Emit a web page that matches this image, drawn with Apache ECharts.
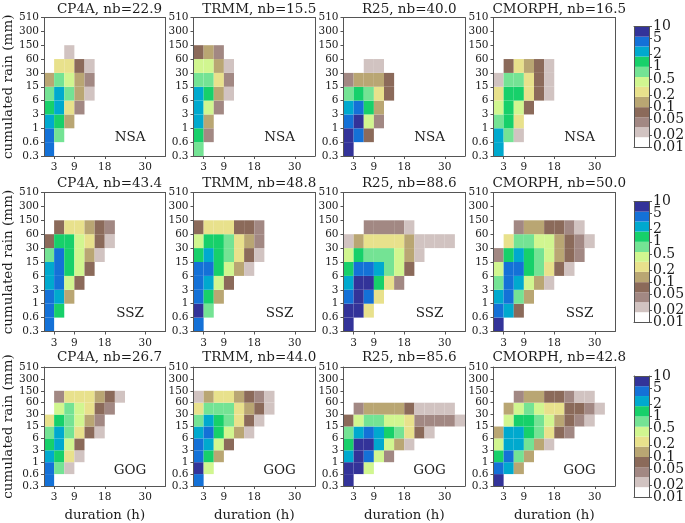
<!DOCTYPE html>
<html>
<head>
<meta charset="utf-8">
<style>html,body{margin:0;padding:0;background:#fff}#c{width:685px;height:523px}</style>
<script src="https://cdn.jsdelivr.net/npm/echarts@6/dist/echarts.min.js"></script>
</head>
<body>
<div id="c"></div>
<script>
const rainTicks = ['0.3','0.6','1','3','6','15','30','60','150','300','510'];
const durationTicks = [3, 9, 18, 30];
const colorbarTicks = [10, 5, 2, 1, 0.5, 0.2, 0.1, 0.05, 0.02, 0.01];
const levels = [0.01,0.018,0.032,0.056,0.1,0.18,0.32,0.56,1,1.8,3.2,5.6,10];
const bandColors = ['#ffffff','#d1c3c1','#a28883','#8b6a5a','#b9a673','#e8e18c','#d1f690','#74e394','#17d06a','#00a9ce','#1471d7','#333399'];
const products = ['CP4A','TRMM','R25','CMORPH'];
const regions = ['NSA','SSZ','GOG'];
const nbNSA = [22.9,15.5,40.0,16.5];
const nbSSZ = [43.4,48.8,88.6,50.0];
const nbGOG = [26.7,44.0,85.6,42.8];

// frequency per (rain bin row, 3-h duration column); 0 = empty. Row 0 is 0.3-0.6 mm.
const cp4aNSA = [[4.2],[4.2,.75],[2.4,1.3,.13],[1.3,2.4,.24,.042],[.75,2.4,.75,.13,.024],[.13,.75,.42,.13,.042],[0,.24,.24,.075,.024],[0,0,.024]];
const trmmNSA = [[.75],[1.3,.042],[2.4,.13],[2.4,.42,.042],[2.4,1.3,.13,.024],[.75,.75,.24,.042],[.42,.42,.13,.024],[.075,.13,.042]];
const r25NSA = [[7.5],[7.5,4.2,.075],[4.2,7.5,.42,.042],[2.4,4.2,1.3,.13],[.75,1.3,.75,.24,.075],[.042,.13,.13,.13,.075],[0,0,.024,.024]];
const cmorphNSA = [[2.4],[2.4,.75,.024],[.75,1.3,.24],[.42,1.3,.42,.075],[.24,1.3,1.3,.24,.075,.024],[.024,.75,.75,.24,.075,.024],[0,.075,.24,.13,.075,.024]];
const cp4aSSZ = [[4.2],[4.2,1.3],[4.2,2.4,.13],[2.4,4.2,.42,.075],[2.4,4.2,1.3,.42,.075],[.75,4.2,1.3,.42,.13,.024],[.075,1.3,1.3,.42,.24,.075,.024],[0,.075,.24,.24,.13,.075,.042]];
const trmmSSZ = [[4.2],[7.5,.75],[4.2,1.3,.13],[4.2,2.4,.42,.075],[4.2,4.2,1.3,.42,.13,.024],[1.3,2.4,1.3,.75,.24,.075,.024],[.42,1.3,1.3,.75,.24,.13,.042],[.075,.24,.24,.24,.075,.075,.042]];
const r25SSZ = [[7.5],[7.5,7.5,.24],[4.2,7.5,4.2,.24],[2.4,7.5,7.5,1.3,.24,.042],[1.3,4.2,4.2,2.4,.75,.42,.075],[.42,1.3,.75,.75,.75,.42,.13,.024],[.024,.13,.24,.24,.24,.24,.13,.024,.024,.024,.024],[0,0,.042,.042,.042,.042,.024]];
const cmorphSSZ = [[7.5],[4.2,2.4,.075],[2.4,4.2,.75,.13],[.75,4.2,2.4,.42,.13,.024],[.42,4.2,4.2,1.3,.75,.24,.075,.024],[.042,1.3,2.4,1.3,.75,.42,.13,.075,.042],[0,.24,.75,.75,.42,.42,.13,.075,.042,.024],[0,0,.042,.13,.13,.075,.075,.042,.024]];
const cp4aGOG = [[4.2],[4.2,.75,.024],[2.4,1.3,.24,.024],[1.3,2.4,.42,.075],[.75,2.4,.75,.24,.075,.024],[.24,1.3,.75,.42,.13,.042],[0,.42,.75,.42,.24,.075,.042],[0,.042,.24,.24,.24,.13,.075,.024]];
const trmmGOG = [[4.2],[7.5,.42],[4.2,1.3,.13],[4.2,2.4,.42,.075],[2.4,4.2,1.3,.42,.13,.024],[.75,2.4,1.3,.75,.24,.075,.024],[.24,.75,.75,.75,.24,.13,.075,.024],[.024,.13,.24,.24,.13,.075,.042,.024]];
const r25GOG = [[7.5],[7.5,7.5,.42],[2.4,7.5,4.2,.42,.042],[1.3,7.5,7.5,2.4,.42,.13,.024],[.75,2.4,4.2,2.4,1.3,.75,.24,.075,.024],[.075,.42,.75,.75,.42,.42,.24,.042,.042,.042,.042,.024],[0,.042,.13,.13,.13,.13,.075,.024,.024,.024,.024]];
const cmorphGOG = [[7.5],[4.2,2.4,.13],[1.3,4.2,.75,.13],[.42,2.4,2.4,.75,.13,.024],[.13,2.4,2.4,1.3,.75,.24,.075,.042],[0,.42,1.3,1.3,.75,.42,.13,.075,.042,.024],[0,.13,.42,.75,.42,.24,.24,.075,.075,.042,.024],[0,0,.042,.13,.13,.075,.075,.042,.024,.024]];

const panels = [
  [cp4aNSA, trmmNSA, r25NSA, cmorphNSA],
  [cp4aSSZ, trmmSSZ, r25SSZ, cmorphSSZ],
  [cp4aGOG, trmmGOG, r25GOG, cmorphGOG]
];
const nbs = [nbNSA, nbSSZ, nbGOG];

const FONT = 'DejaVu Serif';
const INK = '#1c1c1c';
const LINE = '#555555';
const colX = [[43.5,165.5],[193.5,315],[343.5,465],[493.5,615]];
const rowY = [[17.5,156],[192.5,331.5],[367,489.5]];
const barY = [[26.5,147.5],[201.5,322.5],[376,497.5]];
const titleTop = [-3,171,345];

function colorOf(v){
  for(let i=0;i<bandColors.length;i++){ if(v<levels[i+1]) return bandColors[i]; }
  return bandColors[bandColors.length-1];
}
function renderCell(params, api){
  const c = api.value(0), r = api.value(1);
  const a = api.coord([c*3, r]), b = api.coord([(c+1)*3, r+1]);
  return {type:'rect', shape:{x:a[0], y:b[1], width:b[0]-a[0], height:a[1]-b[1]},
    style:{fill:colorOf(api.value(2))}};
}
function renderBand(params, api){
  const i = api.value(0);
  const a = api.coord([0, Math.log10(levels[i])]), b = api.coord([1, Math.log10(levels[i+1])]);
  return {type:'rect', shape:{x:a[0], y:b[1], width:b[0]-a[0], height:a[1]-b[1]},
    style:{fill:bandColors[i]}};
}

const grid=[], xAxis=[], yAxis=[], series=[], title=[];
panels.forEach((rowPanels, ri)=>{
  rowPanels.forEach((panel, ci)=>{
    const g = grid.length, [x0,x1]=colX[ci], [y0,y1]=rowY[ri];
    grid.push({left:x0, top:y0, width:x1-x0, height:y1-y0, show:false});
    title.push({text:products[ci]+', nb='+nbs[ri][ci].toFixed(1), left:(x0+x1)/2, top:titleTop[ri],
      textAlign:'center', textStyle:{fontFamily:FONT,fontSize:13.5,fontWeight:'normal',color:INK}});
    const axisLine={show:true,onZero:false,lineStyle:{color:LINE,width:1}};
    xAxis.push({type:'value',gridIndex:g,min:0,max:36,position:'bottom',z:5,
      axisLine, splitLine:{show:false},
      axisTick:{show:true,length:3,customValues:durationTicks,lineStyle:{color:LINE}},
      axisLabel:{customValues:durationTicks,fontFamily:FONT,fontSize:10.5,color:INK,margin:6},
      name:ri===2?'duration (h)':'',nameLocation:'middle',nameGap:23,
      nameTextStyle:{fontFamily:FONT,fontSize:13.3,color:INK}});
    xAxis.push({type:'value',gridIndex:g,min:0,max:36,position:'top',z:5,axisLine,axisTick:{show:false},axisLabel:{show:false},splitLine:{show:false}});
    yAxis.push({type:'value',gridIndex:g,min:0,max:10,interval:1,position:'left',z:5,
      axisLine, splitLine:{show:false},
      axisTick:{show:true,length:3,lineStyle:{color:LINE}},
      axisLabel:{fontFamily:FONT,fontSize:10.5,color:INK,margin:5,formatter:v=>rainTicks[v]},
      name:ci===0?'cumulated rain (mm)':'',nameLocation:'middle',nameRotate:90,nameGap:29,
      nameTextStyle:{fontFamily:FONT,fontSize:13.5,color:INK}});
    yAxis.push({type:'value',gridIndex:g,min:0,max:10,position:'right',z:5,axisLine,axisTick:{show:false},axisLabel:{show:false},splitLine:{show:false}});
    const xi=xAxis.length-2, yi=yAxis.length-2;
    const data=[];
    panel.forEach((vals,r)=>vals.forEach((v,c)=>{ if(v>0) data.push([c,r,v]); }));
    series.push({type:'custom',xAxisIndex:xi,yAxisIndex:yi,coordinateSystem:'cartesian2d',renderItem:renderCell,
      encode:{x:0,y:1},data,animation:false,silent:true,z:2});
    series.push({type:'scatter',xAxisIndex:xi,yAxisIndex:yi,symbolSize:0,silent:true,animation:false,z:3,
      itemStyle:{opacity:1},
      data:[[25.5,1.3]],
      label:{show:true,position:'inside',formatter:regions[ri],fontFamily:FONT,fontSize:13.5,color:INK}});
  });
  // colour bar for the row: log10 of the frequency on a linear scale
  const g=grid.length, [y0,y1]=barY[ri];
  grid.push({left:634,top:y0,width:15,height:y1-y0,show:false});
  const line={show:true,onZero:false,lineStyle:{color:LINE,width:1}};
  const logTicks=colorbarTicks.map(v=>Math.log10(v));
  xAxis.push({type:'value',gridIndex:g,min:0,max:1,position:'bottom',z:5,axisLine:line,axisTick:{show:false},axisLabel:{show:false},splitLine:{show:false}});
  xAxis.push({type:'value',gridIndex:g,min:0,max:1,position:'top',z:5,axisLine:line,axisTick:{show:false},axisLabel:{show:false},splitLine:{show:false}});
  yAxis.push({type:'value',gridIndex:g,min:-2,max:1,position:'right',z:5,axisLine:line,splitLine:{show:false},
    axisTick:{show:true,length:3,customValues:logTicks,lineStyle:{color:LINE}},
    axisLabel:{show:false}});
  yAxis.push({type:'value',gridIndex:g,min:0,max:1,position:'left',z:5,axisLine:line,axisTick:{show:false},axisLabel:{show:false},splitLine:{show:false}});
  const xi=xAxis.length-2, yi=yAxis.length-2;
  series.push({type:'custom',xAxisIndex:xi,yAxisIndex:yi,coordinateSystem:'cartesian2d',renderItem:renderBand,
    encode:{x:1,y:2},animation:false,silent:true,z:2,
    data:bandColors.map((col,i)=>[i,0.5,Math.log10(levels[i])])});
  series.push({type:'scatter',xAxisIndex:xi,yAxisIndex:yi,symbolSize:0,silent:true,animation:false,z:6,clip:false,
    itemStyle:{opacity:1},
    data:colorbarTicks.map((v,i)=>({value:[1,logTicks[i]],name:String(v)})),
    label:{show:true,position:'right',distance:4,formatter:p=>p.name,fontFamily:FONT,fontSize:14,color:INK},
    labelLayout:{hideOverlap:false}});
});

const chart = echarts.init(document.getElementById('c'),null,{renderer:'canvas'});
chart.setOption({animation:false,backgroundColor:'#fff',title,grid,xAxis,yAxis,series});
</script>
</body>
</html>
